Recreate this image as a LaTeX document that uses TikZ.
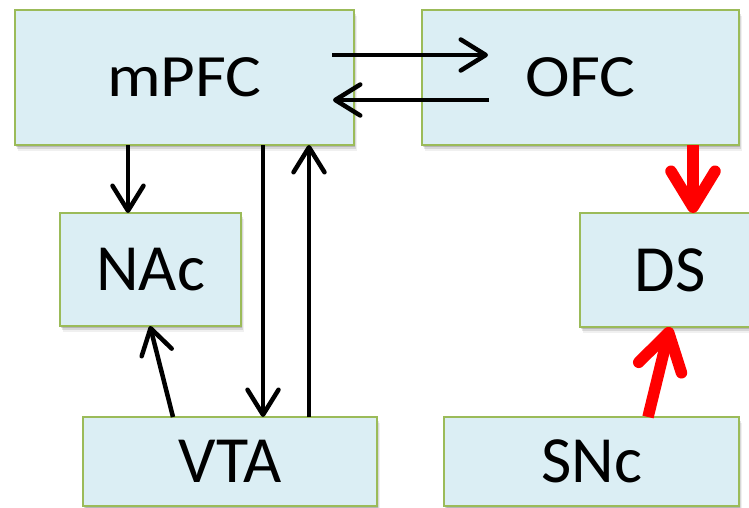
\documentclass[tikz,border=0pt]{standalone}
\usepackage{fontspec}
\usepackage{graphicx}
\setmainfont{Carlito}
\usetikzlibrary{arrows.meta,shadows}
\definecolor{boxfill}{HTML}{DBEEF4}
\definecolor{boxline}{HTML}{9BBB59}
\definecolor{redarr}{HTML}{FF0000}
\tikzset{
  region/.style={draw=boxline, line width=2.5pt, fill=boxfill, inner sep=0pt, outer sep=0pt,
    drop shadow={shadow xshift=1pt,shadow yshift=-2pt,opacity=.15,fill=black},
    drop shadow={shadow xshift=2pt,shadow yshift=-4pt,opacity=.10,fill=black},
    drop shadow={shadow xshift=3pt,shadow yshift=-6pt,opacity=.06,fill=black}},
  bigtext/.style={font=\fontsize{66}{70}\selectfont},
  toptext/.style={font=\fontsize{60}{64}\selectfont},
  blackarr/.style={draw=black, line width=4.5pt, -{Straight Barb[length=25pt,width=31pt,round]}},
  redarrow/.style={draw=redarr, line width=11.5pt, -{Straight Barb[length=36pt,width=44pt,round]}}
}
\begin{document}
\begin{tikzpicture}[x=1pt,y=-1pt]
\useasboundingbox (0,0) rectangle (749,508);
\fill[white] (0,0) rectangle (749,508);
\node[region, toptext, minimum width=339pt, minimum height=135pt] (mPFC) at (184.5,77.5) {\scalebox{1.12}[1]{mPFC}};
\node[region, toptext, minimum width=317pt, minimum height=135pt] (OFC) at (580.5,77.5) {\scalebox{1.12}[1]{OFC}};
\node[region, bigtext, minimum width=181pt, minimum height=113pt] (NAc) at (150.5,269.5) {NAc};
\node[region, bigtext, minimum width=180pt, minimum height=114pt] (DS) at (670,270) {DS};
\node[region, bigtext, minimum width=294pt, minimum height=89pt] (VTA) at (230,461.5) {VTA};
\node[region, bigtext, minimum width=295pt, minimum height=89pt] (SNc) at (591.5,461.5) {SNc};
% connectors
\draw[blackarr] ([xshift=-22pt,yshift=22.5pt]mPFC.east) -- ([xshift=66pt,yshift=22.5pt]OFC.west);
\draw[blackarr] ([xshift=67pt,yshift=-22.5pt]OFC.west) -- ([xshift=-21pt,yshift=-22.5pt]mPFC.east);
\draw[blackarr] ([xshift=-56.5pt]mPFC.south) -- ([xshift=-22.5pt]NAc.north);
\draw[blackarr] ([xshift=78.5pt]mPFC.south) -- ([xshift=33pt]VTA.north);
\draw[blackarr] ([xshift=79pt]VTA.north) -- ([xshift=124.5pt]mPFC.south);
\draw[blackarr] ([xshift=-57pt]VTA.north) -- ([xshift=-0.5pt]NAc.south);
\draw[redarrow] ([xshift=112.5pt]OFC.south) -- ([xshift=23pt]DS.north);
\draw[redarrow] ([xshift=56.5pt]SNc.north) -- (DS.south);
\end{tikzpicture}
\end{document}
